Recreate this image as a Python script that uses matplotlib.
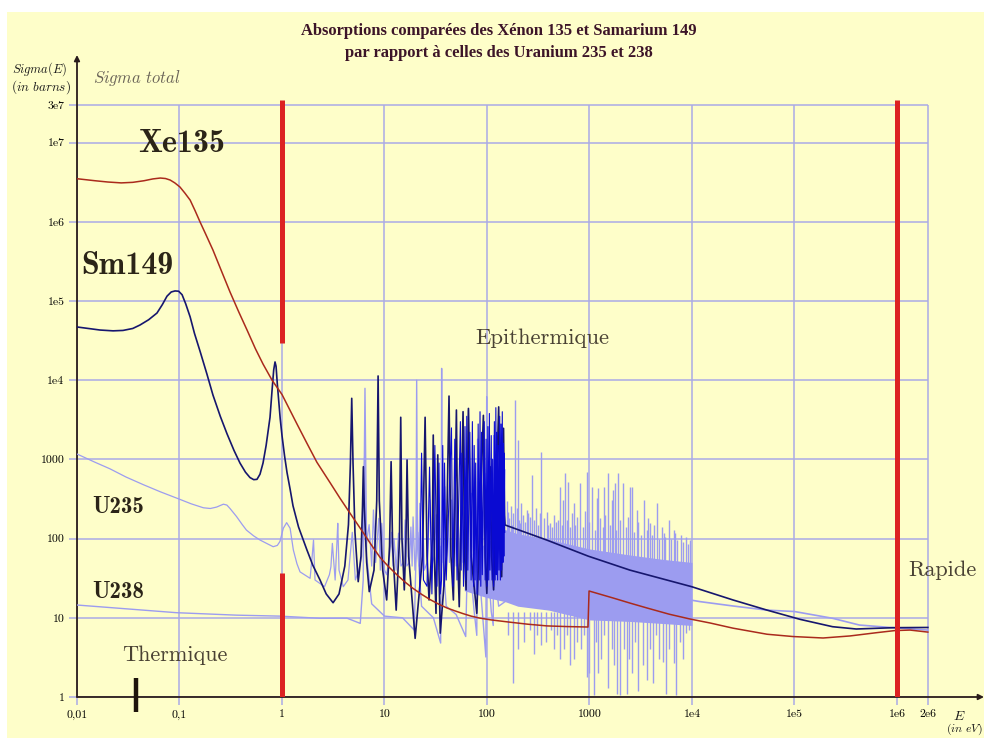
import matplotlib
matplotlib.use('Agg')
import matplotlib.pyplot as plt
from matplotlib.patches import Rectangle
from matplotlib.ticker import NullLocator

plt.rcParams['mathtext.fontset'] = 'cm'

W, H = 984, 738

# ---- values (E in eV, sigma in barns) ----
x_ticks = [0.01, 0.1, 1, 10, 100, 1000, 1e4, 1e5, 1e6, 2e6]
x_labels = ['0,01', '0,1', '1', '10', '100', '1000', '1e4', '1e5', '1e6', '2e6']
y_ticks = [1, 10, 100, 1000, 1e4, 1e5, 1e6, 1e7, 3e7]
y_labels = ['1', '10', '100', '1000', '1e4', '1e5', '1e6', '1e7', '3e7']

# Xenon 135
xe_E = [0.01, 0.015, 0.02, 0.027, 0.035, 0.045, 0.055, 0.065, 0.073, 0.081, 0.09,
        0.101, 0.113, 0.127, 0.142, 0.159, 0.18, 0.212, 0.25, 0.311, 0.38, 0.456,
        0.55, 0.653, 0.8, 1.0, 1.4, 1.75, 2.19, 2.94, 3.7, 4.6, 6.17, 7.5, 9.04,
        11, 13.2, 16, 19, 23, 27.8, 34, 40.7, 49, 58.3, 70, 85.5, 110, 168, 250,
        385, 600, 967, 990, 1695, 2500, 3640, 6000, 9550, 1.5e4, 2.51e4, 5.4e4,
        9.66e4, 1.9e5, 3.48e5, 6.4e5, 9.56e5, 1.34e6, 2e6]
xe_s = [3.5e6, 3.3e6, 3.18e6, 3.1e6, 3.15e6, 3.3e6, 3.48e6, 3.57e6, 3.52e6, 3.37e6, 3.1e6,
        2.75e6, 2.3e6, 1.88e6, 1.38e6, 9.9e5, 7.0e5, 4.4e5, 2.6e5, 1.3e5, 7.2e4, 4.3e4,
        2.5e4, 1.6e4, 1.0e4, 6.6e3, 2.8e3, 1.6e3, 920, 510, 320, 210, 120, 82, 58,
        44, 35, 28, 23.5, 19.8, 17, 14.8, 13.3, 12.2, 11.3, 10.5, 9.9, 9.4, 8.8, 8.3,
        7.9, 7.75, 7.65, 21.8, 17.8, 15.3, 13.3, 11.1, 9.66, 8.6, 7.4, 6.2,
        5.8, 5.56, 5.9, 6.5, 6.9, 7.0, 6.6]

# Samarium 149
sm_E = [0.01, 0.0168, 0.0225, 0.0281, 0.035, 0.0412, 0.05, 0.0603, 0.068, 0.0755,
        0.083, 0.0904, 0.098, 0.106, 0.115, 0.127, 0.14, 0.159, 0.185, 0.212, 0.25,
        0.291, 0.34, 0.389, 0.44, 0.487, 0.53, 0.57, 0.61, 0.653, 0.7, 0.764, 0.8,
        0.83, 0.855, 0.875, 0.9, 0.93, 0.96, 1.0, 1.06, 1.12, 1.2, 1.28, 1.45, 1.75,
        2.0, 2.35, 2.7, 3.15, 3.6, 4.1, 4.45, 4.65, 4.79, 4.93, 5.15, 5.54,
        5.9, 6.1, 6.22, 6.35, 6.7, 7.1, 7.9, 8.4, 8.66, 8.9, 9.6, 10.5, 11.2, 11.6,
        12.0, 13.0, 14.0, 14.4, 14.8, 15.6, 16.2, 16.6, 17.2, 19.9, 23.5, 24.9, 26,
        27.2, 29.3, 29.9, 30.6, 31.8, 33.1, 34, 35.0, 40, 42.6, 44.5, 47.0, 50.3, 52,
        53.6, 58.4, 60.5, 62.5, 65.9, 70, 79.5, 92.2, 96, 99.6, 107.4, 111, 116, 130,
        135, 139, 145, 148, 150, 382, 973, 2480, 9930, 2.51e4, 5.4e4, 1.13e5,
        2.35e5, 4.0e5, 9.2e5, 2e6]
sm_s = [4.7e4, 4.3e4, 4.2e4, 4.25e4, 4.5e4, 4.98e4, 5.8e4, 7.05e4, 9.0e4, 1.15e5,
        1.3e5, 1.34e5, 1.33e5, 1.2e5, 9.2e4, 6.3e4, 3.9e4, 2.3e4, 1.2e4, 6.5e3, 3.5e3,
        2.1e3, 1.3e3, 900, 690, 590, 555, 560, 650, 900, 1.5e3, 3.4e3, 7.5e3,
        1.35e4, 1.7e4, 1.5e4, 9e3, 5.5e3, 3.3e3, 2.0e3, 1.1e3, 680, 420, 260, 140, 72,
        46, 30, 20, 15.5, 20, 45, 150, 900, 5900, 900, 120, 28.6,
        60, 250, 809, 250, 50, 21.4, 40, 300, 11300, 300, 40, 16.8, 80, 935,
        80, 12.5, 100, 3400, 100, 22.5, 100, 983, 60, 5.5, 60, 3400, 60,
        16.8, 100, 2030, 60, 11.4, 1140, 40, 6.4, 60, 6300, 60, 16.8, 4200, 50,
        13.8, 4000, 60, 22.5, 4400, 60, 11.4, 3600, 60, 20.3, 809, 60, 22.5, 4600,
        80, 33, 2470, 200, 148.6, 96, 60, 40, 24.7, 16.8, 12.5, 9.57,
        7.72, 7.22, 7.5, 7.55]

# Samarium 149, dense resonance block (drawn brighter)
smd_E = [22, 23, 24, 26, 27.5, 29, 31, 32.5, 34, 35, 36, 37, 38, 38.5, 40, 45, 46.5,
         48.5, 51, 55, 56, 57, 59, 61, 62, 63.5,
         65, 68, 70, 72, 74, 75, 76.5, 77.5, 80, 82, 84, 85.5, 87, 88.5, 90, 94,
         96, 98, 100, 102, 104, 105.5, 107, 110, 112, 113.5, 116, 118, 120, 122,
         123.5, 125, 127, 128.5, 131, 133, 135, 137, 139, 141, 143, 144.5, 146,
         147.5, 149]
smd_s = [20, 1200, 30, 25, 800, 20, 1500, 25, 900, 20, 30, 1500, 25, 900, 30, 2500, 25,
         1800, 30, 3000, 40, 1200, 25, 2600, 30, 3500,
         40, 2200, 30, 3000, 25, 1500, 30, 900, 20, 2800, 30, 4000, 25, 2200, 35, 3000,
         30, 1800, 25, 2600, 30, 3800, 40, 2000, 30, 1000, 25, 3000, 30, 4500,
         35, 2200, 30, 1500, 40, 3500, 30, 2800, 40, 4000, 50, 1600, 60,
         1200, 120]

# Uranium 235
u5_E = [0.01, 0.015, 0.021, 0.03, 0.0443, 0.065, 0.0936, 0.13, 0.171, 0.2, 0.23,
        0.268, 0.29, 0.311, 0.36, 0.41, 0.45, 0.53, 0.61, 0.72, 0.82, 0.9,
        0.955, 1.03, 1.11, 1.2, 1.29, 1.4, 1.5, 1.88, 1.97, 2.03, 2.1, 2.6, 2.9, 3.0,
        3.1, 3.3, 3.45, 3.5, 3.6, 3.96, 4.4, 4.85, 5.2, 5.6, 6.0, 6.39, 6.6, 7.08,
        7.5, 7.8, 8.2, 8.8, 9.1, 9.4, 10, 10.5, 11.2, 11.7, 12.1, 12.4, 13, 13.7,
        14.5, 15.3, 15.9, 16.5, 17.5, 18.1, 18.6, 19.0, 19.8, 21.1, 21.6, 22.1, 23,
        23.6, 24.5, 26, 27.8, 29, 30.5, 32, 33, 33.7, 34.5, 35.5, 36.3, 38.8, 40,
        41.5, 43, 45, 46.5, 48, 50, 52, 54, 56.5, 58.5, 61, 63, 64.5, 67, 70.6,
        73, 76, 78.5, 81.9, 84, 87, 90, 95.3, 97, 100, 104, 108, 112, 120, 125,
        130, 135, 140, 145, 150]
u5_s = [1170, 920, 760, 600, 480, 390, 325, 275, 245, 240, 250,
        272, 265, 240, 190, 150, 128, 108, 96, 86, 79, 82,
        92, 135, 159, 135, 72, 48, 38, 31.5, 60, 96, 30, 24.7, 35, 44,
        87, 30, 100, 156, 40, 24.7, 30, 120, 30, 40, 60, 1080, 80, 150,
        45, 230, 50, 180, 40, 156, 40, 35, 60, 120, 45, 100, 40, 117,
        45, 50, 172, 45, 50, 140, 45, 188, 40, 120, 45, 279, 50,
        160, 40, 50, 307, 45, 60, 200, 50, 550, 45, 80, 50, 452, 50,
        200, 50, 307, 50, 180, 45, 250, 45, 452, 50, 200, 45, 160, 50, 373,
        50, 250, 45, 550, 50, 250, 50, 667, 50, 200, 55, 300, 50, 307, 60,
        400, 60, 450, 70, 737]

# Uranium 238
u8_E = [0.01, 0.0936, 0.36, 0.955, 2.35, 4.3, 5.8, 6.2, 6.45, 6.7, 7.5, 10, 15,
        19.5, 20.3, 20.6, 21, 23, 30, 35.3, 35.8, 36.1, 36.5, 40, 50, 62, 64.5,
        65.9, 67, 75, 79.5, 81, 82.5, 90, 97.5, 99.3, 101, 110, 115, 116.5, 118,
        130, 150]
u8_s = [14.5, 11.6, 10.8, 10.5, 9.86, 9.9, 8.5, 30, 7900, 60, 15, 10.5, 10,
        7, 60, 10000, 80, 14, 10, 4.8, 100, 14100, 80, 14, 11, 5.8, 60,
        4200, 60, 12, 6, 1800, 50, 12, 3.2, 6200, 60, 12, 8, 2000, 40,
        14, 16]

# unresolved uranium block 60 eV - 10 keV, and the tail beyond
band_E = [60, 100, 150, 200, 400, 1000, 2500, 5000, 1e4]
band_hi = [55, 90, 130, 115, 98, 74, 62, 55, 50]
band_lo = [22, 18, 16, 14, 12.5, 9.4, 9.0, 8.5, 8.0]
up_E = [155, 161, 165, 170, 175, 181, 188, 195, 200, 205, 210, 217, 225, 235, 245,
        253, 265, 273, 285, 300, 315, 330, 340, 360, 382, 395, 412, 430, 450, 470,
        490, 515, 540, 556, 580, 600, 621, 650, 670, 700, 730, 760, 807, 860, 900,
        940, 1000, 1050, 1130, 1190, 1220, 1280, 1340, 1385, 1430, 1500, 1580,
        1650, 1680, 1770, 1830, 1900, 2000, 2140, 2250, 2380, 2490, 2580, 2700,
        2890, 3000, 3200, 3400, 3600, 3750, 3890, 4100, 4300, 4530, 4800, 5060,
        5300, 5500, 5900, 6200, 6600, 6830, 7100, 7800, 8200, 8800, 9200, 9550]
up_top = [300, 219, 180, 260, 150, 209, 5600, 240, 1760, 170, 156, 279, 200, 160, 230,
          209, 190, 635, 170, 240, 150, 210, 1250, 180, 219, 150, 156, 141, 200, 160,
          170, 452, 150, 307, 667, 170, 523, 140, 209, 279, 150, 190, 499, 140, 220,
          700, 160, 452, 130, 323, 431, 180, 140, 452, 200, 667, 150,
          307, 411, 499, 130, 667, 170, 499, 140, 190, 452, 452, 120,
          230, 160, 110, 307, 130, 180, 156, 110, 150, 279, 100, 141,
          117, 105, 172, 100, 128, 117, 95, 110, 90, 104, 85, 96]
dn_E = [160, 180, 200, 230, 260, 290, 310, 340, 380, 420, 450, 480, 520, 560, 600,
        640, 700, 760, 820, 880, 940, 1000, 1100, 1150, 1200, 1300, 1400, 1500,
        1650, 1750, 1850, 2000, 2150, 2300, 2450, 2600, 2800, 3000, 3300, 3600,
        3900, 4200, 4500, 4800, 5200, 5600, 6000, 6600, 7000, 7600, 8200, 8800, 9300]
dn_bot = [6, 1.49, 4, 5, 7, 3.5, 6, 4.5, 5, 7, 4, 6, 3, 4, 6,
          2.5, 3, 5, 4, 6, 1.8, 2, 1.05, 5, 1.99, 3, 6, 1.3,
          4, 2.5, 1.1, 1.05, 4, 1.1, 3, 2, 5, 1.2, 2.5, 1.64,
          4, 1.5, 6, 3, 2.8, 1.1, 4, 2.66, 1.05, 5, 3, 6.4, 7]
lt_E = [9.6e3, 1.2e4, 2.51e4, 5.4e4, 1.0e5, 2.35e5, 4.3e5, 9.2e5, 2e6]
lt_s = [16.8, 16, 14.1, 12.5, 12.0, 9.86, 8.1, 7.5, 7.0]

# domain separators (red bars) and thermal marker
sep_E = [1, 1, 1e6]
sep_lo = [2.98e4, 1, 1]
sep_hi = [3.45e7, 36.5, 3.45e7]
th_E = 0.038

grid_c = '#aaaae6'
light = '#9c9cf0'
navy = '#16166e'
bright = '#0a0ad2'
xe_c = '#aa2a1c'
txt_c = '#2b2418'

fig = plt.figure(figsize=(W / 100, H / 100), dpi=100, facecolor='white')
fig.patches.append(Rectangle((7 / W, 0), 1 - 7 / W, 1 - 12 / H, transform=fig.transFigure,
                             facecolor='#fefec9', edgecolor='none', zorder=-10))

ax = fig.add_axes([77 / W, 41 / H, 907 / W, 642 / H])
ax.set_xscale('log')
ax.set_yscale('log')
ax.set_xlim(0.01, 7.06e6)
ax.set_ylim(1, 1.277e8)
ax.patch.set_visible(False)
for s in ax.spines.values():
    s.set_visible(False)

ax.set_xticks(x_ticks, x_labels)
ax.set_yticks(y_ticks, y_labels)
ax.xaxis.set_minor_locator(NullLocator())
ax.yaxis.set_minor_locator(NullLocator())
ax.tick_params(length=6, width=1.1, color=grid_c, labelsize=8.5, pad=3)
for lab in ax.get_xticklabels() + ax.get_yticklabels():
    lab.set_fontfamily('cmr10')

ax.hlines(y_ticks, 0.01, 2e6, colors=grid_c, lw=1.1, zorder=1)
ax.vlines(x_ticks, 1, 3e7, colors=grid_c, lw=1.1, zorder=1)

# axes with arrows
arr = dict(arrowstyle='-|>', color='#2a1c1c', lw=1.3, mutation_scale=8, shrinkA=0, shrinkB=0)
ax.annotate('', xy=(0, 1), xytext=(0, 0), xycoords='axes fraction', arrowprops=arr)
ax.annotate('', xy=(1, 0), xytext=(0, 0), xycoords='axes fraction', arrowprops=arr)

# curves
ax.fill_between(band_E, band_lo, band_hi, color=light, lw=0, zorder=2)
ax.vlines(up_E, 40, up_top, colors=light, lw=1.0, zorder=2)
ax.vlines(dn_E, 12, dn_bot, colors=light, lw=1.0, zorder=2)
ax.plot(u8_E, u8_s, color=light, lw=1.0, zorder=3)
ax.plot(u5_E, u5_s, color=light, lw=0.9, zorder=3)
ax.plot(lt_E, lt_s, color=light, lw=1.2, zorder=3)
ax.plot(sm_E, sm_s, color=navy, lw=1.2, zorder=4)
ax.plot(smd_E, smd_s, color=bright, lw=0.8, zorder=4)
ax.plot(xe_E, xe_s, color=xe_c, lw=1.1, zorder=5)

ax.vlines(sep_E, sep_lo, sep_hi, colors='#dc2222', lw=3.6, zorder=6)
ax.vlines(th_E, 0.646, 1.74, colors='#1e140c', lw=3.2, zorder=6, clip_on=False)


def px(x, y):
    return x / W, 1 - y / H


fig.text(*px(499, 31), 'Absorptions comparées des Xénon 135 et Samarium 149',
         family='Liberation Serif', weight='bold', size=11.9, color='#3c1428', ha='center', va='center')
fig.text(*px(499, 53), 'par rapport à celles des Uranium 235 et 238',
         family='Liberation Serif', weight='bold', size=11.9, color='#3c1428', ha='center', va='center')

fig.text(*px(12, 69), r'$Sigma(E)$', size=9, color='#1a1a1a', ha='left', va='center')
fig.text(*px(11, 87), r'$(in\ barns)$', size=9.5, color='#1a1a1a', ha='left', va='center')
fig.text(*px(93, 78), r'$Sigma\ total$', size=12, color='#6a6458', ha='left', va='center')
fig.text(*px(953, 716), r'$E$', size=10, color='#1a1a1a', ha='left', va='center')
fig.text(*px(946, 729), r'$(in\ eV)$', size=8.5, color='#1a1a1a', ha='left', va='center')

fig.text(*px(138, 143), 'Xe135', family='cmb10', size=23, color=txt_c, ha='left', va='center')
fig.text(*px(81, 265), 'Sm149', family='cmb10', size=23, color=txt_c, ha='left', va='center')
fig.text(*px(92, 507), 'U235', family='cmb10', size=16.5, color=txt_c, ha='left', va='center')
fig.text(*px(92, 592), 'U238', family='cmb10', size=16.5, color=txt_c, ha='left', va='center')

fig.text(*px(475, 338), 'Epithermique', family='cmr10', size=16.3, color='#4a4234', ha='left', va='center')
fig.text(*px(122, 655), 'Thermique', family='cmr10', size=16, color='#4a4234', ha='left', va='center')
fig.text(*px(908, 570), 'Rapide', family='cmr10', size=16, color='#4a4234', ha='left', va='center')

fig.savefig('out.png', dpi=100, facecolor=fig.get_facecolor())
